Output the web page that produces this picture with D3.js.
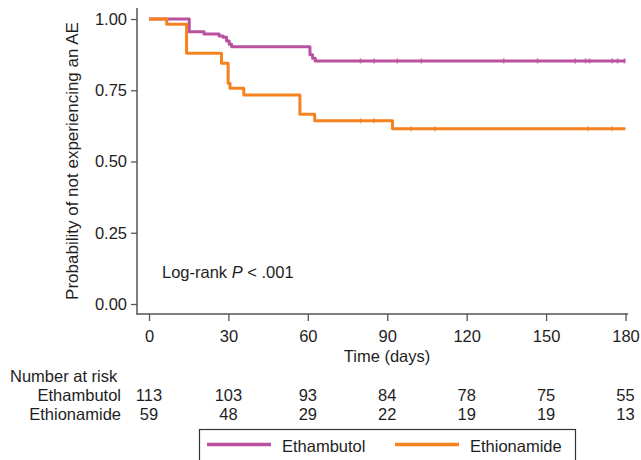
<!DOCTYPE html>
<html>
<head>
<meta charset="utf-8">
<script src="https://cdn.jsdelivr.net/npm/d3@7"></script>
<style>
  body { margin: 0; background: #fff; }
  svg { font-family: "Liberation Sans", Arial, sans-serif; }
</style>
</head>
<body>
<svg width="641" height="460"></svg>
<script>
const svg = d3.select("svg");

// data
const groups = ["Ethambutol", "Ethionamide"];
const colors = ["#b9519f", "#f6821f"];
const ethambutolSteps = [
    [0, 1], [15.2, 0.955], [20.8, 0.947], [26.5, 0.94], [28, 0.936], [29.3, 0.923],
    [30.3, 0.911], [31.2, 0.903], [60.8, 0.875], [61.8, 0.862], [62.8, 0.853], [180, 0.853]
];
const ethionamideSteps = [
    [0, 1], [6.7, 0.982], [14.2, 0.88], [27.4, 0.845], [29.9, 0.775], [30.6, 0.757],
    [35.8, 0.733], [57, 0.666], [62.6, 0.643], [92, 0.615], [180, 0.615]
];
const ethambutolCensor = [79.9, 85, 93.8, 102.9, 134, 146.8, 161, 164.9, 166.4, 175, 177, 179.6];
const ethionamideCensor = [79.9, 85, 99, 108, 165.8, 175];
const xTicks = [0, 30, 60, 90, 120, 150, 180];
const yTicks = [0, 0.25, 0.5, 0.75, 1];
const atRiskEthambutol = [113, 103, 93, 84, 78, 75, 55];
const atRiskEthionamide = [59, 48, 29, 22, 19, 19, 13];

const x = d3.scaleLinear().domain([0, 180]).range([149, 625.5]);
const y = d3.scaleLinear().domain([0, 1]).range([304, 19]);

const axisColor = "#555";
const textColor = "#1e1e1e";
const fontSize = 16.5;

// y axis
const yAxis = svg.append("g")
    .attr("transform", "translate(137,0)")
    .call(d3.axisLeft(y).tickValues(yTicks).tickFormat(d3.format(".2f")).tickSize(6).tickSizeOuter(0));
yAxis.select(".domain").attr("d", "M0,8V315").attr("stroke", axisColor).attr("stroke-width", 1.5);
yAxis.selectAll(".tick line").attr("stroke", axisColor).attr("stroke-width", 1.3);
yAxis.selectAll(".tick text").attr("font-size", fontSize).attr("fill", textColor)
    .attr("font-family", "Liberation Sans, Arial, sans-serif").attr("x", -10);

// x axis
const xAxis = svg.append("g")
    .attr("transform", "translate(0,314)")
    .call(d3.axisBottom(x).tickValues(xTicks).tickSize(7).tickSizeOuter(0));
xAxis.select(".domain").attr("d", "M137,0H628").attr("stroke", axisColor).attr("stroke-width", 1.5);
xAxis.selectAll(".tick line").attr("stroke", axisColor).attr("stroke-width", 1.3);
xAxis.selectAll(".tick text").attr("font-size", fontSize).attr("fill", textColor)
    .attr("font-family", "Liberation Sans, Arial, sans-serif")
    .attr("dy", null).attr("y", 28);

svg.append("text")
    .attr("x", 387).attr("y", 362)
    .attr("text-anchor", "middle")
    .attr("font-size", fontSize).attr("fill", textColor)
    .text("Time (days)");

svg.append("text")
    .attr("transform", "translate(78,161) rotate(-90)")
    .attr("text-anchor", "middle")
    .attr("font-size", 17).attr("fill", textColor)
    .text("Probability of not experiencing an AE");

// survival curves
const line = d3.line().x(d => x(d[0])).y(d => y(d[1])).curve(d3.curveStepAfter);
const curves = [ethambutolSteps, ethionamideSteps];
const censors = [ethambutolCensor, ethionamideCensor];

function survAt(steps, t) {
    let s = steps[0][1];
    steps.forEach(([tt, v]) => { if (tt <= t) s = v; });
    return s;
}

curves.forEach((steps, i) => {
    svg.append("path")
        .datum(steps)
        .attr("d", line)
        .attr("fill", "none")
        .attr("stroke", colors[i])
        .attr("stroke-width", 3)
        .attr("stroke-linejoin", "round");
    svg.append("g").selectAll("line")
        .data(censors[i])
        .enter().append("line")
        .attr("x1", d => x(d)).attr("x2", d => x(d))
        .attr("y1", d => y(survAt(steps, d)) - 2.5)
        .attr("y2", d => y(survAt(steps, d)) + 2.5)
        .attr("stroke", colors[i])
        .attr("stroke-width", 1.5)
        .attr("opacity", 0.8);
});

// log-rank annotation
const lr = svg.append("text")
    .attr("x", 162).attr("y", 278)
    .attr("font-size", fontSize).attr("fill", textColor);
lr.append("tspan").text("Log-rank ");
lr.append("tspan").attr("font-style", "italic").text("P");
lr.append("tspan").text(" < .001");

// number at risk table
svg.append("text")
    .attr("x", 10).attr("y", 381.5)
    .attr("font-size", fontSize).attr("fill", textColor)
    .text("Number at risk");

[atRiskEthambutol, atRiskEthionamide].forEach((vals, i) => {
    const rowY = 401 + i * 18.5;
    svg.append("text")
        .attr("x", 121).attr("y", rowY)
        .attr("text-anchor", "end")
        .attr("font-size", fontSize).attr("fill", textColor)
        .text(groups[i]);
    svg.append("g").selectAll("text")
        .data(vals)
        .enter().append("text")
        .attr("x", (d, j) => x(xTicks[j]))
        .attr("y", rowY)
        .attr("text-anchor", "middle")
        .attr("font-size", fontSize).attr("fill", textColor)
        .text(d => d);
});

// legend
svg.append("rect")
    .attr("x", 199.5).attr("y", 429.5)
    .attr("width", 376).attr("height", 40)
    .attr("fill", "#fff")
    .attr("stroke", "#333").attr("stroke-width", 1.2);

const legendX = [207, 395];
groups.forEach((g, i) => {
    svg.append("line")
        .attr("x1", legendX[i]).attr("x2", legendX[i] + 64)
        .attr("y1", 444.5).attr("y2", 444.5)
        .attr("stroke", colors[i]).attr("stroke-width", 3.5);
    svg.append("text")
        .attr("x", legendX[i] + 75).attr("y", 451.5)
        .attr("font-size", fontSize).attr("fill", textColor)
        .text(g);
});
</script>
</body>
</html>
